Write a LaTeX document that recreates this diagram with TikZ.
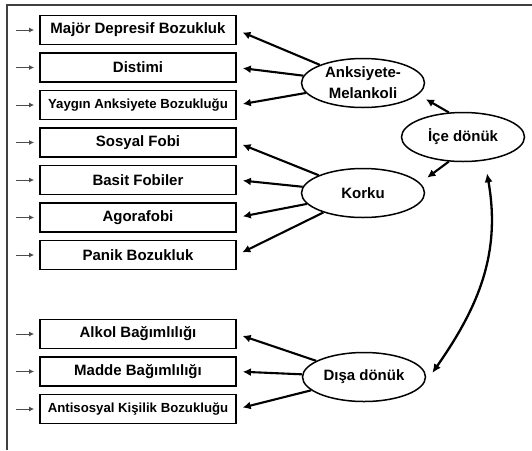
\documentclass[tikz,border=0pt]{standalone}
\usepackage{fontspec}
\setmainfont{Liberation Sans}
\usetikzlibrary{arrows.meta,shapes.geometric}
\begin{document}
\begin{tikzpicture}[x=1pt,y=-1pt,
  kutu/.style={draw,line width=1.8pt,minimum width=196pt,minimum height=29pt,inner sep=0pt,font=\fontsize{15}{17}\selectfont\bfseries},
  kutuk/.style={kutu,font=\fontsize{13.2}{15}\selectfont\bfseries},
  faktor/.style={draw,ellipse,line width=1.5pt,minimum width=123pt,minimum height=49pt,inner sep=0pt,align=center,font=\fontsize{15}{21}\selectfont\bfseries},
  ok/.style={line width=2.1pt,-{Latex[length=8pt,width=8pt]},shorten >=6pt},
  hata/.style={black!70,line width=1pt,-{Latex[length=5pt,width=5pt]},shorten >=5pt}]
\useasboundingbox (0,0) rectangle (532,450);
\draw[black!75,line width=2pt] (7,450) -- (7,5) -- (532,5);

\node[kutu] (major) at (138,30) {Majör Depresif Bozukluk};
\node[kutu] (distimi) at (138,67.5) {Distimi};
\node[kutuk] (yaygin) at (138,105) {Yaygın Anksiyete Bozukluğu};
\node[kutu] (sosyal) at (138,142.5) {Sosyal Fobi};
\node[kutu] (basit) at (138,180) {Basit Fobiler};
\node[kutu] (agora) at (138,217.5) {Agorafobi};
\node[kutu] (panik) at (138,255) {Panik Bozukluk};
\node[kutu] (alkol) at (138,334) {Alkol Bağımlılığı};
\node[kutu] (madde) at (138,371.5) {Madde Bağımlılığı};
\node[kutuk] (antisosyal) at (138,409) {Antisosyal Kişilik Bozukluğu};

\node[faktor] (anks) at (363,83) {Anksiyete-\\Melankoli};
\node[faktor] (korku) at (363,193) {Korku};
\node[faktor] (ice) at (463,137) {İçe dönük};
\node[faktor] (disa) at (364,377) {Dışa dönük};

\foreach \k in {major,distimi,yaygin,sosyal,basit,agora,panik,alkol,madde,antisosyal}
  \draw[hata] ([xshift=-23pt]\k.west) -- (\k.west);

\draw[ok] (anks) -- (major.east);
\draw[ok] (anks) -- (distimi.east);
\draw[ok] (anks) -- (yaygin.east);
\draw[ok] (korku) -- (sosyal.east);
\draw[ok] (korku) -- (basit.east);
\draw[ok] (korku) -- (agora.east);
\draw[ok] (korku) -- (panik.east);
\draw[ok] (disa) -- (alkol.east);
\draw[ok] (disa) -- (madde.east);
\draw[ok] (disa) -- (antisosyal.east);

\draw[ok,shorten >=9pt] (ice.120) -- (anks.-12);
\draw[ok,shorten >=9pt] (ice.240) -- (korku.10);
\draw[line width=2.3pt,{Latex[length=9pt,width=8pt]}-{Latex[length=9pt,width=8pt]}]
  ([xshift=24pt,yshift=-11pt]ice.south) to[out=-80,in=55] ([xshift=6pt,yshift=4pt]disa.east);
\end{tikzpicture}
\end{document}
